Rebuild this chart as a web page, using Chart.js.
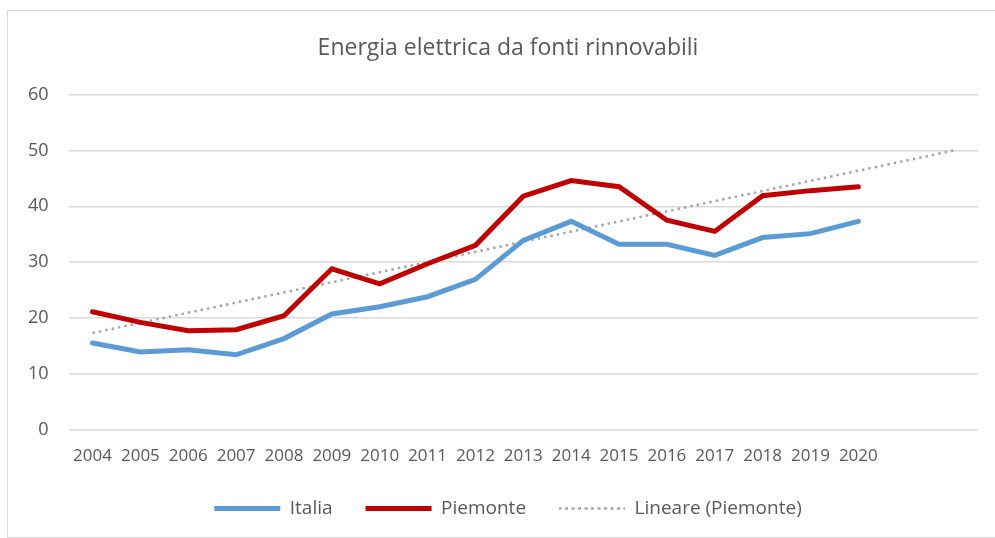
<!DOCTYPE html>
<html>
<head>
<meta charset="utf-8">
<script src="https://cdn.jsdelivr.net/npm/chart.js@4"></script>
<style>
  body { margin: 0; background: #fff; overflow: hidden; }
  #box {
    position: absolute; left: 7px; top: 10px;
    width: 1010px; height: 526px;
    border: 1px solid #d9d9d9;
  }
</style>
</head>
<body>
<div id="box"><canvas id="myChart"></canvas></div>
<script>
const years = ['2004','2005','2006','2007','2008','2009','2010','2011','2012',
  '2013','2014','2015','2016','2017','2018','2019','2020','',''];
const italia = [15.5, 13.9, 14.3, 13.4, 16.3, 20.7, 22.0, 23.8, 26.9,
  33.9, 37.3, 33.2, 33.2, 31.2, 34.4, 35.1, 37.3];
const piemonte = [21.1, 19.2, 17.7, 17.9, 20.4, 28.8, 26.1, 29.7, 33.0,
  41.8, 44.6, 43.5, 37.5, 35.5, 41.9, 42.8, 43.5];
// trend line: start (2004) and end (two periods after 2020)
const lineare = [17.3, null, null, null, null, null, null, null, null,
  null, null, null, null, null, null, null, null, null, 50.0];
const yMin = 0, yMax = 60, yStep = 10;

const textColor = '#595959';
const gridColor = '#d9d9d9';

function renderChart() {
  const ctx = document.getElementById('myChart');

  new Chart(ctx, {
    type: 'line',
    data: {
      labels: years,
      datasets: [{
        label: 'Italia',
        data: italia,
        borderColor: '#5b9bd5',
        backgroundColor: '#5b9bd5',
        borderWidth: 5,
        borderCapStyle: 'round',
        pointRadius: 0,
        tension: 0
      }, {
        label: 'Piemonte',
        data: piemonte,
        borderColor: '#c00000',
        backgroundColor: '#c00000',
        borderWidth: 5,
        borderCapStyle: 'round',
        pointRadius: 0,
        tension: 0
      }, {
        label: 'Lineare (Piemonte)',
        data: lineare,
        borderColor: '#a6a6a6',
        backgroundColor: '#a6a6a6',
        borderWidth: 2.5,
        borderDash: [2.5, 4],
        pointRadius: 0,
        spanGaps: true
      }]
    },
    options: {
      responsive: true,
      maintainAspectRatio: false,
      animation: false,
      layout: {
        padding: { left: 0, right: 10, top: 0, bottom: 9 }
      },
      plugins: {
        title: {
          display: true,
          text: 'Energia elettrica da fonti rinnovabili',
          color: textColor,
          font: { family: 'Open Sans', size: 23, weight: 'normal' },
          padding: { top: 24, bottom: 32 }
        },
        legend: {
          position: 'bottom',
          labels: {
            color: textColor,
            font: { family: 'Open Sans', size: 19 },
            boxWidth: 66,
            boxHeight: 0,
            padding: 33
          }
        },
        tooltip: { enabled: false }
      },
      scales: {
        x: {
          offset: true,
          grid: { display: false },
          border: { display: false },
          ticks: {
            color: textColor,
            font: { family: 'Open Sans', size: 17 },
            autoSkip: false,
            maxRotation: 0,
            padding: 8
          },
          // year labels sit closer to the legend than the default box allows
          afterFit: function (scale) { scale.height -= 8; }
        },
        y: {
          min: yMin,
          max: yMax,
          grid: { color: gridColor, lineWidth: 1.5, drawTicks: false },
          border: { display: false },
          ticks: {
            stepSize: yStep,
            color: textColor,
            font: { family: 'Open Sans', size: 18 },
            padding: 20
          }
        },
        // empty right margin inside the plot frame, as in the original sheet
        yRight: {
          position: 'right',
          grid: { display: false },
          border: { display: false },
          ticks: { display: false },
          afterFit: function (scale) { scale.width = 30; }
        }
      }
    }
  });
}

renderChart();
</script>
</body>
</html>
